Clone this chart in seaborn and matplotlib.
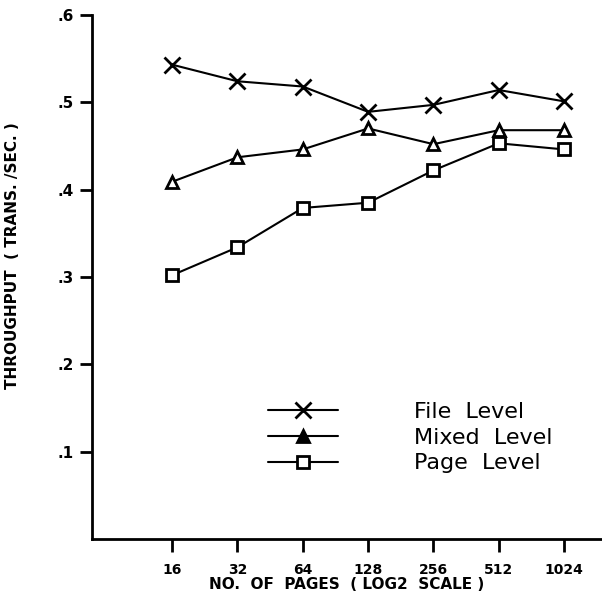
import matplotlib
matplotlib.use("Agg")
import matplotlib.pyplot as plt
import seaborn as sns
import pandas as pd
from matplotlib.lines import Line2D

pages = [16, 32, 64, 128, 256, 512, 1024]
file_level = [0.543, 0.524, 0.518, 0.489, 0.497, 0.514, 0.501]
mixed_level = [0.409, 0.437, 0.446, 0.470, 0.452, 0.468, 0.468]
page_level = [0.302, 0.334, 0.379, 0.385, 0.422, 0.453, 0.446]
series_names = ["File Level", "Mixed Level", "Page Level"]
yticks = [0.1, 0.2, 0.3, 0.4, 0.5, 0.6]
ytick_labels = [".1", ".2", ".3", ".4", ".5", ".6"]

sns.set_theme(style="white")
plt.rcParams["font.family"] = ["DejaVu Sans"]
plt.rcParams["text.color"] = "black"
plt.rcParams["axes.labelcolor"] = "black"
plt.rcParams["xtick.color"] = "black"
plt.rcParams["ytick.color"] = "black"

fig = plt.figure(figsize=(6.02, 5.95), dpi=100)
ax = fig.add_axes([0.153, 0.094, 0.847, 0.881])

styles = [
    dict(marker="x", markersize=11, markeredgewidth=2, markeredgecolor="black"),
    dict(marker="^", markersize=9, markeredgewidth=2, markeredgecolor="black", markerfacecolor="white"),
    dict(marker="s", markersize=8, markeredgewidth=2, markeredgecolor="black", markerfacecolor="white"),
]
for vals, st in zip([file_level, mixed_level, page_level], styles):
    sns.lineplot(x=pages, y=vals, color="black", linewidth=1.5, ax=ax, legend=False, **st)

ax.set_xscale("log", base=2)
ax.set_xlim(2 ** 2.775, 2 ** 10.58)
ax.set_ylim(0, 0.6)
ax.set_xticks(pages)
ax.set_xticklabels([str(p) for p in pages])
ax.set_yticks(yticks)
ax.set_yticklabels(ytick_labels)
ax.minorticks_off()
ax.tick_params(axis="both", direction="out", length=9, width=2, color="black",
               labelsize=10, labelcolor="black", bottom=True, left=True)
ax.tick_params(axis="x", pad=8)
ax.tick_params(axis="y", pad=4, labelsize=11)
for lab in ax.get_xticklabels() + ax.get_yticklabels():
    lab.set_fontweight("bold")
for s in ["top", "right"]:
    ax.spines[s].set_visible(False)
for s in ["left", "bottom"]:
    ax.spines[s].set_color("black")
    ax.spines[s].set_linewidth(2)

ax.set_xlabel("NO.  OF  PAGES  ( LOG2  SCALE )", fontsize=11, fontweight="bold", color="black")
ax.xaxis.set_label_coords(0.5, -0.073)
ax.set_ylabel("THROUGHPUT  ( TRANS. /SEC. )", fontsize=11, fontweight="bold", color="black")
ax.yaxis.set_label_coords(-0.141, 0.54)

handles = [
    Line2D([], [], color="black", lw=1.5, marker="x", markersize=11, markeredgewidth=2),
    Line2D([], [], color="black", lw=1.5, marker="^", markersize=9, markeredgewidth=2,
           markerfacecolor="black", markeredgecolor="black"),
    Line2D([], [], color="black", lw=1.5, marker="s", markersize=8, markeredgewidth=2,
           markerfacecolor="white", markeredgecolor="black"),
]
leg = ax.legend(handles, [n.replace(" ", "  ") for n in series_names],
                loc="upper left", bbox_to_anchor=(0.345, 0.261),
                frameon=False, fontsize=16, handlelength=3.15, handletextpad=3.4,
                labelspacing=0.25, numpoints=1, borderpad=0, borderaxespad=0)
for t in leg.get_texts():
    t.set_color("black")

fig.savefig("out.png", dpi=100)
